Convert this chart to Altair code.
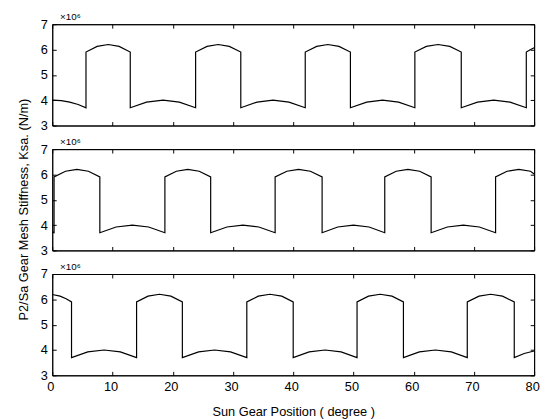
import altair as alt
import pandas as pd

# Stiffness values in units of 1e6 N/m, positions in degrees
x_top = [0, 1.5, 2.9, 4.3, 5.6, 5.6, 7.45, 9.3, 11.1, 12.95, 12.95, 15.65, 18.4, 21.1, 23.8,
         23.8, 25.7, 27.55, 29.4, 31.3, 31.3, 34.0, 36.65, 39.3, 42.0, 42.0, 43.9, 45.75, 47.6, 49.5,
         49.5, 52.2, 54.85, 57.5, 60.2, 60.2, 62.1, 64.05, 66.0, 67.9, 67.9, 70.6, 73.3, 76.0, 78.7,
         78.7, 79.35, 80]
y_top = [4.0, 3.985, 3.925, 3.83, 3.7, 5.9, 6.125, 6.2, 6.125, 5.9, 3.7, 3.925, 4.0, 3.925, 3.7,
         5.9, 6.125, 6.2, 6.125, 5.9, 3.7, 3.925, 4.0, 3.925, 3.7, 5.9, 6.125, 6.2, 6.125, 5.9,
         3.7, 3.925, 4.0, 3.925, 3.7, 5.9, 6.125, 6.2, 6.125, 5.9, 3.7, 3.925, 4.0, 3.925, 3.7,
         5.9, 5.99, 6.07]

x_mid = [0, 0.3, 0.3, 2.2, 4.1, 6.0, 7.9, 7.9, 10.6, 13.3, 16.0, 18.7, 18.7, 20.6, 22.5, 24.4, 26.3,
         26.3, 29.0, 31.65, 34.3, 37.0, 37.0, 38.95, 40.9, 42.85, 44.8, 44.8, 47.4, 50.0, 52.6, 55.2,
         55.2, 57.1, 59.05, 61.0, 62.9, 62.9, 65.6, 68.25, 70.9, 73.6, 73.6, 75.5, 77.45, 79.4, 80]
y_mid = [3.72, 3.7, 5.9, 6.125, 6.2, 6.125, 5.9, 3.7, 3.925, 4.0, 3.925, 3.7, 5.9, 6.125, 6.2, 6.125, 5.9,
         3.7, 3.925, 4.0, 3.925, 3.7, 5.9, 6.125, 6.2, 6.125, 5.9, 3.7, 3.925, 4.0, 3.925, 3.7,
         5.9, 6.125, 6.2, 6.125, 5.9, 3.7, 3.925, 4.0, 3.925, 3.7, 5.9, 6.125, 6.2, 6.125, 6.02]

x_bot = [0, 1.3, 2.3, 3.2, 3.2, 5.9, 8.6, 11.3, 14.0, 14.0, 15.9, 17.8, 19.7, 21.6, 21.6, 24.3, 26.95,
         29.6, 32.3, 32.3, 34.2, 36.15, 38.1, 40.0, 40.0, 42.65, 45.3, 47.95, 50.6, 50.6, 52.5, 54.45,
         56.4, 58.3, 58.3, 60.95, 63.6, 66.25, 68.9, 68.9, 70.85, 72.8, 74.75, 76.7, 76.7, 78.35, 80]
y_bot = [6.19, 6.125, 6.02, 5.9, 3.7, 3.925, 4.0, 3.925, 3.7, 5.9, 6.125, 6.2, 6.125, 5.9, 3.7, 3.925, 4.0,
         3.925, 3.7, 5.9, 6.125, 6.2, 6.125, 5.9, 3.7, 3.925, 4.0, 3.925, 3.7, 5.9, 6.125, 6.2,
         6.125, 5.9, 3.7, 3.925, 4.0, 3.925, 3.7, 5.9, 6.125, 6.2, 6.125, 5.9, 3.7, 3.86, 3.96]

x_ticks = [0, 10, 20, 30, 40, 50, 60, 70, 80]
y_ticks = [3, 4, 5, 6, 7]

X_TITLE = "Sun Gear Position ( degree )"
Y_TITLE = "P2/Sa Gear Mesh Stiffness, Ksa. (N/m)"
FONT = "Liberation Sans"
W, H = 490, 103
TICK = {"expr": "-4"}


def panel(xs, ys, bottom=False, ytitle=False):
    df = pd.DataFrame({"pos": xs, "k": ys, "idx": list(range(len(xs)))})
    xsc = alt.Scale(domain=[0, 80], nice=False, zero=False)
    ysc = alt.Scale(domain=[3, 7], nice=False, zero=False)
    xaxis_kw = dict(values=x_ticks, labels=bottom, tickSize=TICK, labelPadding=9,
                    labelFlush=False, labelOffset=-2, grid=False)
    if bottom:
        xaxis_kw.update(title=X_TITLE, titlePadding=13, titleFontSize=13)
    else:
        xaxis_kw.update(title=None)
    yaxis_kw = dict(values=y_ticks, tickSize=TICK, labelPadding=9, grid=False, labelFlush=False)
    if ytitle:
        yaxis_kw.update(title=Y_TITLE, titlePadding=10, titleY=188, titleFontSize=13)
    else:
        yaxis_kw.update(title=None)

    base = alt.Chart(df)
    main = base.mark_line(color="black", strokeWidth=1.2).encode(
        x=alt.X("pos:Q", scale=xsc, axis=alt.Axis(**xaxis_kw)),
        y=alt.Y("k:Q", scale=ysc, axis=alt.Axis(**yaxis_kw)),
        order="idx:Q",
    )
    mirror = base.mark_line(strokeOpacity=0).encode(
        x=alt.X("pos:Q", scale=xsc, axis=alt.Axis(orient="top", values=x_ticks, labels=False,
                                                   tickSize=TICK, title=None, grid=False)),
        y=alt.Y("k:Q", scale=ysc, axis=alt.Axis(orient="right", values=y_ticks, labels=False,
                                                 tickSize=TICK, title=None, grid=False)),
        order="idx:Q",
    )
    return alt.layer(main, mirror).resolve_axis(x="independent", y="independent").properties(
        width=W, height=H,
        title=alt.TitleParams("\u00d710\u2076", anchor="start", frame="group", fontSize=10,
                              font=FONT, fontWeight="normal", color="black", dx=8, offset=-4),
    )


chart = alt.vconcat(
    panel(x_top, y_top, ytitle=True),
    panel(x_mid, y_mid),
    panel(x_bot, y_bot, bottom=True),
    spacing=24,
    bounds="flush",
).properties(
    padding={"left": 9, "top": 0, "right": 2, "bottom": 0}
).configure_view(
    stroke="black", strokeWidth=1
).configure_axis(
    labelFont=FONT, labelFontSize=13, labelColor="black",
    titleFont=FONT, titleFontSize=11, titleColor="black", titleFontWeight="normal",
    domainColor="black", tickColor="black", domainWidth=1, tickWidth=1,
)

chart.save("out.html", embed_options={"renderer": "svg", "actions": False})
